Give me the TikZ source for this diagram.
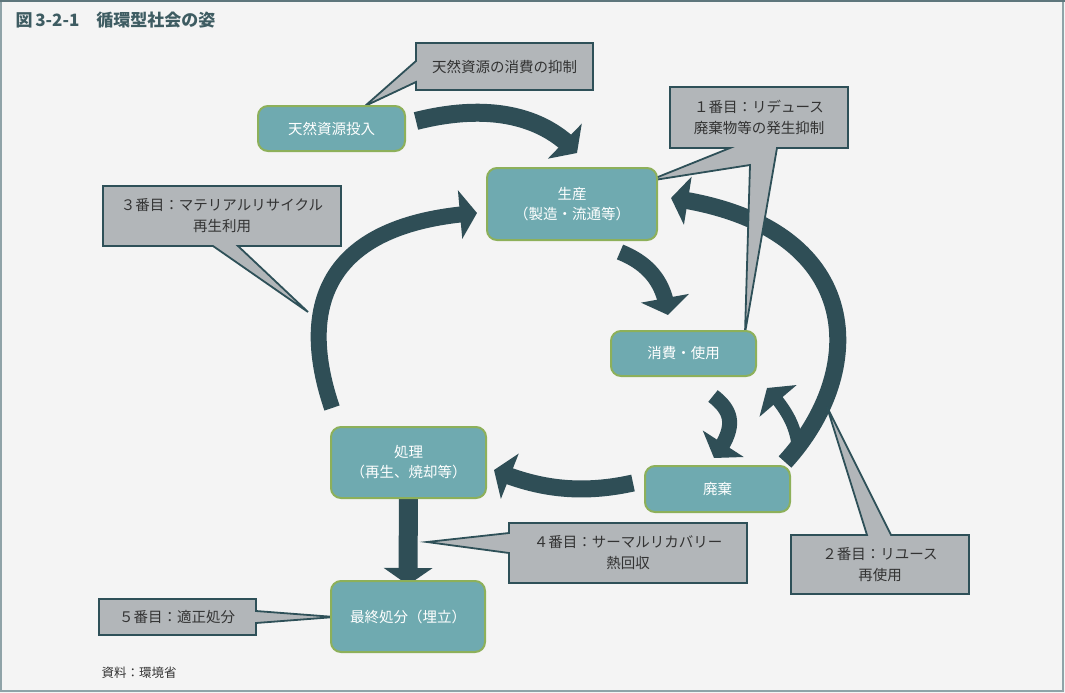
\documentclass[tikz,border=0pt]{standalone}
\usepackage{xcolor}
\usepackage{fontspec}
\setmainfont{Noto Sans CJK JP}
\usepackage{tikz}
\usetikzlibrary{arrows.meta, bending}

\definecolor{paper}{HTML}{F4F4F4}
\definecolor{frameline}{HTML}{8FA3A8}
\definecolor{frametop}{HTML}{5E767C}
\definecolor{stagefill}{HTML}{6FAAB0}
\definecolor{stageline}{HTML}{8DB05A}
\definecolor{flowcol}{HTML}{2F4E56}
\definecolor{notefill}{HTML}{B2B6B9}
\definecolor{noteline}{HTML}{2E5058}
\definecolor{notetext}{HTML}{333333}
\definecolor{titlecol}{HTML}{3E5C62}

\pgfdeclarelayer{back}
\pgfdeclarelayer{mid}
\pgfsetlayers{back,mid,main}

\tikzset{
  stage/.style={draw=stageline, fill=stagefill, line width=2pt, rounded corners=10pt,
    text=white, align=center, inner sep=0pt, font=\fontsize{14.5}{20}\selectfont},
  note/.style={draw=noteline, fill=notefill, line width=1.8pt, line join=miter},
  notelabel/.style={text=notetext, align=center, font=\fontsize{14.5}{21}\selectfont},
  flow/.style={draw=flowcol, line width=#1, -{Triangle[length=17pt, width=48pt, flex]}},
  flow/.default=17pt,
}

\begin{document}
\begin{tikzpicture}[x=1pt, y=-1pt]
    \useasboundingbox (0,0) rectangle (1065,693);

    % stages of the cycle
    \node[stage, minimum width=147pt, minimum height=45pt] (tennen) at (331.5,128.5) {天然資源投入};
    \node[stage, minimum width=170pt, minimum height=72pt] (seisan) at (572,204) {生産\\（製造・流通等）};
    \node[stage, minimum width=145pt, minimum height=45pt] (shohi) at (683.5,353.5) {消費・使用};
    \node[stage, minimum width=145pt, minimum height=46pt] (haiki) at (717.5,489) {廃棄};
    \node[stage, minimum width=155pt, minimum height=71pt] (shori) at (408.5,462.5) {処理\\（再生、焼却等）};
    \node[stage, minimum width=154pt, minimum height=71pt] (saishu) at (408,616.5) {最終処分（埋立）};

    % callout texts
    \node[notelabel] (n1) at (504.5,67) {天然資源の消費の抑制};
    \node[notelabel] (n2) at (759,117.5) {１番目：リデュース\\廃棄物等の発生抑制};
    \node[notelabel] (n3) at (222,216) {３番目：マテリアルリサイクル\\再生利用};
    \node[notelabel] (n4) at (628,553) {４番目：サーマルリカバリー\\熱回収};
    \node[notelabel] (n5) at (880,565) {２番目：リユース\\再使用};
    \node[notelabel] (n6) at (177,617) {５番目：適正処分};

    \node[anchor=west, text=titlecol, font=\fontsize{17}{20}\selectfont\bfseries] (title) at (12,20) {図\,3-2-1　循環型社会の姿};
    \node[anchor=west, text=notetext, font=\fontsize{12.5}{15}\selectfont] (source) at (98,673) {資料：環境省};

    \begin{pgfonlayer}{back}
        \fill[paper] (0,0) rectangle (1065,693);
        \draw[frameline, line width=1.5pt] (1,1) rectangle (1063,691);
        \draw[frametop, line width=2pt] (0,1) -- (1065,1);
    \end{pgfonlayer}

    \begin{pgfonlayer}{mid}
        % arrows
        \draw[flow=18pt] ([shift={(10,-7.5)}]tennen.east) .. controls +(75,-19) and +(-32,-36) .. ([shift={(5,-14)}]seisan.north);
        \draw[flow=16pt] ([shift={(48,11)}]seisan.south) .. controls +(30,12) and +(-3,-31) .. ([shift={(-15.5,-15)}]shohi.north);
        \draw[flow=15pt] ([shift={(29.5,19)}]shohi.south) .. controls +(22,17) and +(21,-29) .. ([shift={(-3.5,-7)}]haiki.north);
        \draw[flow=17pt] ([shift={(-11,-6)}]haiki.west) .. controls +(-54,12) and +(42,18) .. ([shift={(7,7.5)}]shori.east);
        \draw[flow=19pt] ([yshift=15]shori.south) -- ([yshift=-5]saishu.north);
        \draw[flow=16pt] ([shift={(-76.5,-18)}]shori.north) .. controls +(-27,-79) and +(-173,12) .. ([shift={(-9,9)}]seisan.west);
        \draw[flow=12pt] ([shift={(80.5,-16)}]haiki.north) .. controls +(-2,-20) and +(23,25) .. ([shift={(83.5,11)}]shohi.south);
        \draw[flow=17pt] ([shift={(67.5,-3)}]haiki.north) .. controls +(85,-93) and +(195,27) .. ([shift={(13,-6)}]seisan.east);

        % callout shapes
        \filldraw[note] (416,43) -- (593,43) -- (593,90) -- (416,90) -- (416,82) -- (365,106) -- (416,61) -- cycle;
        \filldraw[note] (670,87) -- (848,87) -- (848,148) -- (777,148) -- (745,333) -- (750,165) -- (648,181) -- (730,148) -- (670,148) -- cycle;
        \filldraw[note] (103,186) -- (341,186) -- (341,246) -- (238,246) -- (308,312) -- (213,246) -- (103,246) -- cycle;
        \filldraw[note] (509,523) -- (747,523) -- (747,583) -- (509,583) -- (509,553) -- (427,542) -- (509,533) -- cycle;
        \filldraw[note] (791,535) -- (867,535) -- (827,407) -- (891,535) -- (969,535) -- (969,594) -- (791,594) -- cycle;
        \filldraw[note] (99,599) -- (256,599) -- (256,611) -- (335,617) -- (256,623) -- (256,635) -- (99,635) -- cycle;
    \end{pgfonlayer}
\end{tikzpicture}
\end{document}
